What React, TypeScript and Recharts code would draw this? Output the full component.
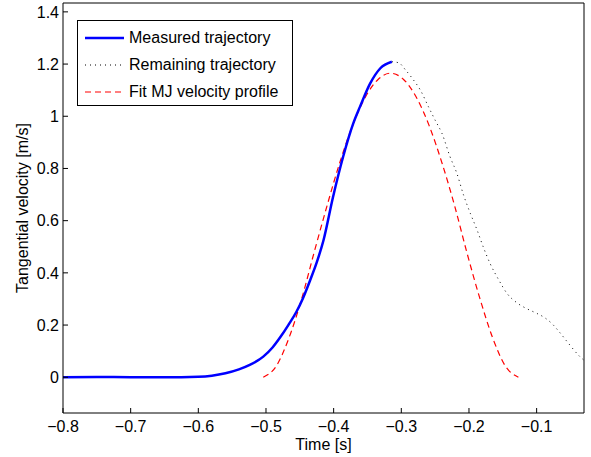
import React from 'react'
import { LineChart, Line, XAxis, YAxis } from 'recharts'

// measured part of the trajectory (blue)
const measuredT = [-0.8, -0.75, -0.7, -0.65, -0.6, -0.58, -0.56, -0.54, -0.524, -0.504, -0.49, -0.479, -0.467, -0.455, -0.445, -0.435, -0.425, -0.415, -0.401, -0.386, -0.371, -0.361, -0.346, -0.331, -0.314]
const measuredV = [0, 0.001, 0, 0, 0.002, 0.006, 0.015, 0.03, 0.047, 0.079, 0.115, 0.153, 0.2, 0.251, 0.305, 0.37, 0.44, 0.525, 0.69, 0.845, 0.973, 1.037, 1.126, 1.184, 1.209]

// rest of the trajectory (black dotted)
const remainingT = [-0.314, -0.304, -0.293, -0.282, -0.272, -0.26, -0.25, -0.24, -0.228, -0.218, -0.208, -0.198, -0.188, -0.179, -0.169, -0.156, -0.144, -0.129, -0.114, -0.1, -0.088, -0.078, -0.065, -0.053, -0.036, -0.03]
const remainingV = [1.209, 1.205, 1.175, 1.139, 1.101, 1.037, 0.985, 0.935, 0.845, 0.782, 0.698, 0.628, 0.564, 0.5, 0.437, 0.373, 0.322, 0.285, 0.262, 0.245, 0.228, 0.207, 0.169, 0.13, 0.079, 0.065]

// fitted minimum-jerk profile (red dashed)
const fitT = [-0.504, -0.485, -0.466, -0.447, -0.429, -0.41, -0.391, -0.372, -0.353, -0.334, -0.316, -0.297, -0.278, -0.259, -0.24, -0.221, -0.203, -0.184, -0.165, -0.146, -0.127]
const fitV = [0, 0.042, 0.151, 0.303, 0.477, 0.655, 0.822, 0.965, 1.074, 1.142, 1.165, 1.142, 1.074, 0.965, 0.822, 0.655, 0.477, 0.303, 0.151, 0.042, 0]

const xTicks = [-0.8, -0.7, -0.6, -0.5, -0.4, -0.3, -0.2, -0.1]
const yTicks = [0, 0.2, 0.4, 0.6, 0.8, 1, 1.2, 1.4]

const toPoints = (t: number[], v: number[]) => t.map((x, i) => ({ t: x, v: v[i] }))
const measured = toPoints(measuredT, measuredV)
const remaining = toPoints(remainingT, remainingV)
const fit = toPoints(fitT, fitV)

const font = '"Liberation Sans", Arial, Helvetica, sans-serif'
const fmt = (v: number) => (v < 0 ? '\u2212' + String(Math.abs(v)) : String(v))
const tickStyle = { fill: '#000', fontSize: 16, fontFamily: font }

const legendRows = [
  { label: 'Measured trajectory', color: '#0000ff', width: 2.5, dash: undefined },
  { label: 'Remaining trajectory', color: '#000000', width: 1, dash: '1 4' },
  { label: 'Fit MJ velocity profile', color: '#ff0000', width: 1.2, dash: '6 4' },
]

function LegendBox() {
  return (
    <div
      style={{
        position: 'absolute',
        left: 77,
        top: 20,
        width: 214,
        height: 84,
        border: '1px solid #000',
        background: '#fff',
        fontFamily: font,
        fontSize: 16,
        color: '#000',
      }}
    >
      {legendRows.map((r, i) => (
        <div key={r.label} style={{ position: 'absolute', left: 7, top: 5 + i * 27, height: 24, display: 'flex', alignItems: 'center' }}>
          <svg width={40} height={10} style={{ marginRight: 4 }}>
            <line x1={0} y1={5} x2={39} y2={5} stroke={r.color} strokeWidth={r.width} strokeDasharray={r.dash} />
          </svg>
          <span style={{ whiteSpace: 'nowrap' }}>{r.label}</span>
        </div>
      ))}
    </div>
  )
}

export default function App() {
  return (
    <div style={{ position: 'absolute', left: 0, top: 0, width: 591, height: 457, background: '#fff' }}>
      <LineChart width={591} height={457} margin={{ top: 2, right: 6, bottom: 0, left: 0 }}>
        <XAxis
          xAxisId="bottom"
          dataKey="t"
          type="number"
          domain={[-0.8, -0.03]}
          ticks={xTicks}
          allowDataOverflow
          height={44}
          tickSize={-5}
          tickMargin={13}
          tickFormatter={fmt}
          tick={tickStyle}
          axisLine={{ stroke: '#000' }}
          tickLine={{ stroke: '#000' }}
          label={{
            content: () => (
              <text x={323.5} y={450} textAnchor="middle" fontSize={16} fontFamily={font} fill="#000">
                Time [s]
              </text>
            ),
          }}
        />
        <XAxis
          xAxisId="top"
          orientation="top"
          dataKey="t"
          type="number"
          domain={[-0.8, -0.03]}
          ticks={xTicks}
          allowDataOverflow
          height={1}
          tickSize={-5}
          tick={false}
          axisLine={{ stroke: '#000' }}
          tickLine={{ stroke: '#000' }}
        />
        <YAxis
          yAxisId="left"
          type="number"
          domain={[-0.137, 1.434]}
          ticks={yTicks}
          allowDataOverflow
          width={63}
          tickSize={-5}
          tickMargin={9}
          tickFormatter={fmt}
          tick={tickStyle}
          axisLine={{ stroke: '#000' }}
          tickLine={{ stroke: '#000' }}
          label={{
            content: () => (
              <text x={22} y={208} transform="rotate(-90 22 208)" textAnchor="middle" dominantBaseline="central" fontSize={16} fontFamily={font} fill="#000">
                Tangential velocity [m/s]
              </text>
            ),
          }}
        />
        <YAxis
          yAxisId="right"
          orientation="right"
          type="number"
          domain={[-0.137, 1.434]}
          ticks={yTicks}
          allowDataOverflow
          width={1}
          tickSize={-5}
          tick={false}
          axisLine={{ stroke: '#000' }}
          tickLine={{ stroke: '#000' }}
        />
        <Line xAxisId="bottom" yAxisId="left" data={remaining} dataKey="v" type="monotone" stroke="#000" strokeWidth={1} strokeDasharray="1 4" dot={false} isAnimationActive={false} />
        <Line xAxisId="bottom" yAxisId="left" data={fit} dataKey="v" type="monotone" stroke="#ff0000" strokeWidth={1.2} strokeDasharray="6 4" dot={false} isAnimationActive={false} />
        <Line xAxisId="bottom" yAxisId="left" data={measured} dataKey="v" type="monotone" stroke="#0000ff" strokeWidth={2.5} dot={false} isAnimationActive={false} />
      </LineChart>
      <LegendBox />
    </div>
  )
}
